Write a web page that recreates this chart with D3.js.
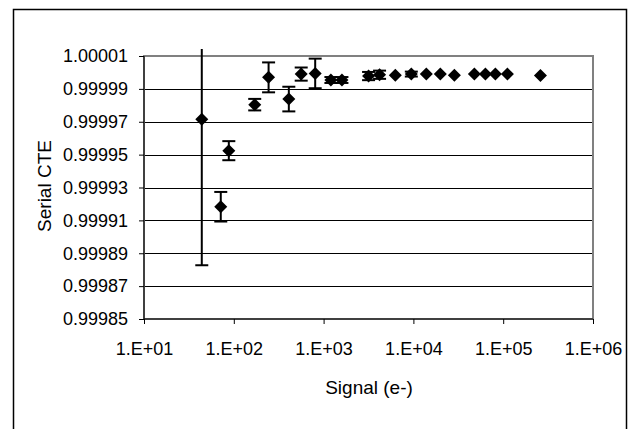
<!DOCTYPE html>
<html lang="en">
<head>
  <meta charset="UTF-8" />
  <title>Serial CTE vs Signal</title>
  <style>
    body { margin: 0; background: #fff; }
    svg { display: block; font-family: "Liberation Sans", Arial, sans-serif; }
  </style>
</head>
<body>
  <svg id="chart"></svg>

  <script src="https://d3js.org/d3.v7.min.js"></script>
  <script>
    // values
    const signal = [44, 71.6, 88, 171, 244, 410, 563, 806, 1206, 1600, 3168, 4200,
      6285, 9480, 13930, 19950, 28580, 47750, 63370, 81850, 111400, 260000];
    const cte = [0.9999715, 0.9999183, 0.9999524, 0.9999804, 0.9999970, 0.9999838,
      0.9999990, 0.9999994, 0.9999954, 0.9999954, 0.9999978, 0.9999986,
      0.9999983, 0.9999990, 0.9999990, 0.9999990, 0.9999983, 0.9999990,
      0.9999990, 0.9999990, 0.9999990, 0.9999982];
    const cteErr = [0.0000888, 0.0000090, 0.0000058, 0.0000035, 0.0000091, 0.0000075,
      0.0000040, 0.0000090, 0.0000018, 0.0000018, 0.0000025, 0.0000025,
      0, 0.0000015, 0, 0, 0, 0, 0, 0, 0, 0];
    const yTicks = [0.99985, 0.99987, 0.99989, 0.99991, 0.99993, 0.99995, 0.99997, 0.99999, 1.00001];
    const xTicks = [1e1, 1e2, 1e3, 1e4, 1e5, 1e6];
    const xTickLabels = ["1.E+01", "1.E+02", "1.E+03", "1.E+04", "1.E+05", "1.E+06"];

    const W = 631, H = 429;
    const plot = { left: 144, top: 56, right: 593, bottom: 319 };

    const svg = d3.select("#chart").attr("width", W).attr("height", H);

    // chart area border (runs off the bottom of the picture)
    svg.append("rect")
      .attr("x", 13.5).attr("y", 9.5)
      .attr("width", 613).attr("height", 440)
      .attr("fill", "none").attr("stroke", "#000").attr("stroke-width", 1.5);

    const x = d3.scaleLog().domain([1e1, 1e6]).range([plot.left, plot.right]);
    const y = d3.scaleLinear().domain([0.99985, 1.00001]).range([plot.bottom, plot.top]);

    // gridlines
    svg.append("g")
      .selectAll("line")
      .data(yTicks.slice(1, -1))
      .join("line")
      .attr("x1", plot.left).attr("x2", plot.right)
      .attr("y1", d => Math.round(y(d)) + 0.5).attr("y2", d => Math.round(y(d)) + 0.5)
      .attr("stroke", "#000").attr("stroke-width", 1);

    // plot area border
    svg.append("rect")
      .attr("x", plot.left).attr("y", plot.top)
      .attr("width", plot.right - plot.left).attr("height", plot.bottom - plot.top)
      .attr("fill", "none").attr("stroke", "#808080").attr("stroke-width", 2);

    const yAxis = svg.append("g")
      .attr("transform", `translate(${plot.left},0)`)
      .call(d3.axisLeft(y).tickValues(yTicks).tickSize(5).tickPadding(11)
        .tickFormat(d3.format(".5f")));

    const xAxis = svg.append("g")
      .attr("transform", `translate(0,${plot.bottom})`)
      .call(d3.axisBottom(x).tickValues(xTicks).tickSize(5).tickPadding(18)
        .tickFormat((d, i) => xTickLabels[i]));

    [yAxis, xAxis].forEach(g => {
      g.select(".domain").attr("stroke", "#000").attr("stroke-width", 1);
      g.selectAll(".tick line").attr("stroke", "#000");
      g.selectAll("text").attr("font-size", 18).attr("fill", "#000")
        .attr("font-family", "'Liberation Sans', Arial, sans-serif");
    });
    xAxis.select(".domain").attr("d", `M${plot.left},0H${plot.right}`);
    yAxis.select(".domain").attr("d", `M0,${plot.bottom}V${plot.top}`);

    // axis titles
    svg.append("text")
      .attr("transform", `translate(51,186) rotate(-90)`)
      .attr("text-anchor", "middle")
      .attr("font-size", 19)
      .text("Serial CTE");

    svg.append("text")
      .attr("x", 369).attr("y", 394)
      .attr("text-anchor", "middle")
      .attr("font-size", 19)
      .text("Signal (e-)");

    const data = signal.map((s, i) => ({ s, v: cte[i], e: cteErr[i] }));

    svg.append("clipPath").attr("id", "clip")
      .append("rect").attr("x", 0).attr("y", 49).attr("width", W).attr("height", H);

    // error bars
    const capW = 6.5;
    const eb = svg.append("g").attr("clip-path", "url(#clip)")
      .attr("stroke", "#000").attr("stroke-width", 2)
      .selectAll("g")
      .data(data.filter(d => d.e > 0))
      .join("g");
    eb.append("line")
      .attr("x1", d => x(d.s)).attr("x2", d => x(d.s))
      .attr("y1", d => y(d.v + d.e)).attr("y2", d => y(d.v - d.e));
    eb.append("line")
      .attr("x1", d => x(d.s) - capW).attr("x2", d => x(d.s) + capW)
      .attr("y1", d => y(d.v + d.e)).attr("y2", d => y(d.v + d.e));
    eb.append("line")
      .attr("x1", d => x(d.s) - capW).attr("x2", d => x(d.s) + capW)
      .attr("y1", d => y(d.v - d.e)).attr("y2", d => y(d.v - d.e));

    // diamond markers
    const r = 6.5;
    svg.append("g")
      .selectAll("path")
      .data(data)
      .join("path")
      .attr("d", d => {
        const cx = x(d.s), cy = y(d.v);
        return `M${cx},${cy - r}L${cx + r},${cy}L${cx},${cy + r}L${cx - r},${cy}Z`;
      })
      .attr("fill", "#000");
  </script>
</body>
</html>
